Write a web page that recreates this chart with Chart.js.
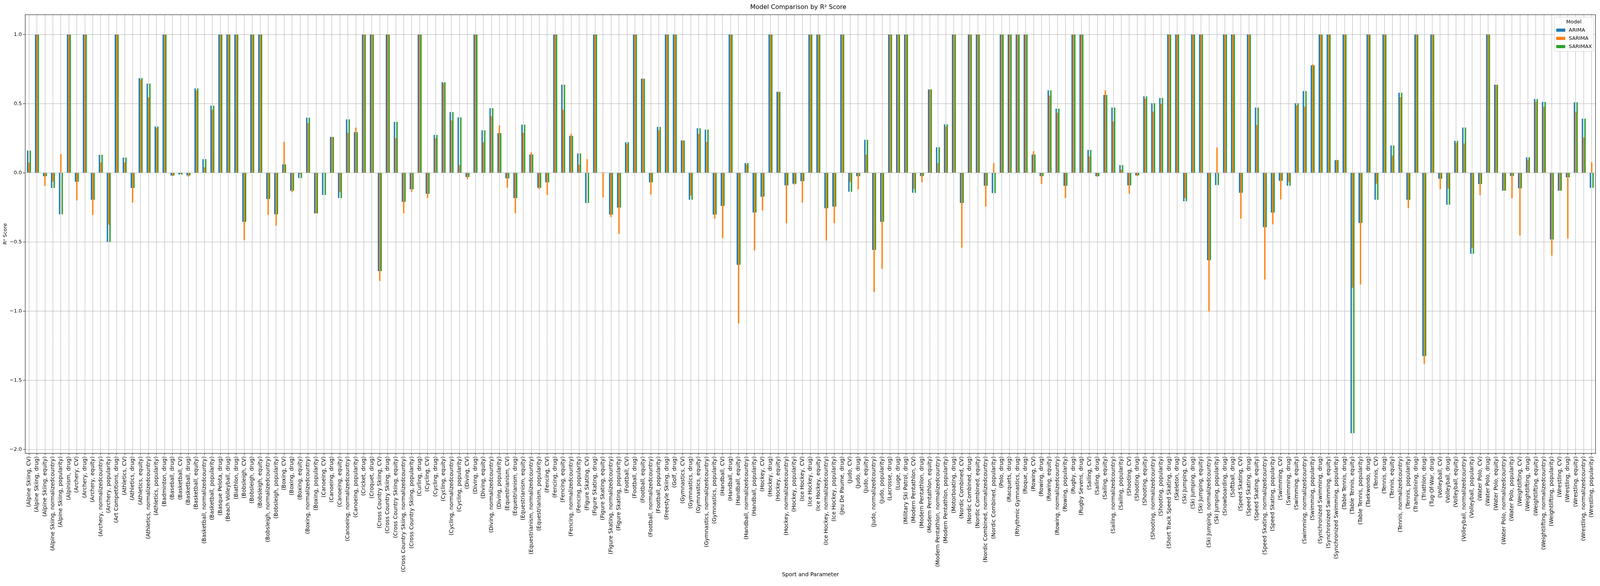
<!DOCTYPE html>
<html>
<head>
<meta charset="utf-8">
<script src="https://cdn.jsdelivr.net/npm/chart.js@4.4.1/dist/chart.umd.min.js"></script>
<style>
  html, body { margin: 0; padding: 0; background: #fff; overflow: hidden; }
  #myChart { display: block; }
</style>
</head>
<body>
<canvas id="myChart"></canvas>
<script>
// categories (sport, parameter)
var categories = [
    "(Alpine Skiing, CV)", "(Alpine Skiing, drug)", "(Alpine Skiing, equity)", "(Alpine Skiing, normalizedcountry)", "(Alpine Skiing, popularity)",
    "(Alpinism, drug)", "(Archery, CV)", "(Archery, drug)", "(Archery, equity)", "(Archery, normalizedcountry)",
    "(Archery, popularity)", "(Art Competitions, drug)", "(Athletics, CV)", "(Athletics, drug)", "(Athletics, equity)",
    "(Athletics, normalizedcountry)", "(Athletics, popularity)", "(Badminton, drug)", "(Baseball, drug)", "(Basketball, CV)",
    "(Basketball, drug)", "(Basketball, equity)", "(Basketball, normalizedcountry)", "(Basketball, popularity)", "(Basque Pelota, drug)",
    "(Beach Volleyball, drug)", "(Biathlon, drug)", "(Bobsleigh, CV)", "(Bobsleigh, drug)", "(Bobsleigh, equity)",
    "(Bobsleigh, normalizedcountry)", "(Bobsleigh, popularity)", "(Boxing, CV)", "(Boxing, drug)", "(Boxing, equity)",
    "(Boxing, normalizedcountry)", "(Boxing, popularity)", "(Canoeing, CV)", "(Canoeing, drug)", "(Canoeing, equity)",
    "(Canoeing, normalizedcountry)", "(Canoeing, popularity)", "(Cricket, drug)", "(Croquet, drug)", "(Cross Country Skiing, CV)",
    "(Cross Country Skiing, drug)", "(Cross Country Skiing, equity)", "(Cross Country Skiing, normalizedcountry)", "(Cross Country Skiing, popularity)", "(Curling, drug)",
    "(Cycling, CV)", "(Cycling, drug)", "(Cycling, equity)", "(Cycling, normalizedcountry)", "(Cycling, popularity)",
    "(Diving, CV)", "(Diving, drug)", "(Diving, equity)", "(Diving, normalizedcountry)", "(Diving, popularity)",
    "(Equestrianism, CV)", "(Equestrianism, drug)", "(Equestrianism, equity)", "(Equestrianism, normalizedcountry)", "(Equestrianism, popularity)",
    "(Fencing, CV)", "(Fencing, drug)", "(Fencing, equity)", "(Fencing, normalizedcountry)", "(Fencing, popularity)",
    "(Figure Skating, CV)", "(Figure Skating, drug)", "(Figure Skating, equity)", "(Figure Skating, normalizedcountry)", "(Figure Skating, popularity)",
    "(Football, CV)", "(Football, drug)", "(Football, equity)", "(Football, normalizedcountry)", "(Football, popularity)",
    "(Freestyle Skiing, drug)", "(Golf, drug)", "(Gymnastics, CV)", "(Gymnastics, drug)", "(Gymnastics, equity)",
    "(Gymnastics, normalizedcountry)", "(Gymnastics, popularity)", "(Handball, CV)", "(Handball, drug)", "(Handball, equity)",
    "(Handball, normalizedcountry)", "(Handball, popularity)", "(Hockey, CV)", "(Hockey, drug)", "(Hockey, equity)",
    "(Hockey, normalizedcountry)", "(Hockey, popularity)", "(Ice Hockey, CV)", "(Ice Hockey, drug)", "(Ice Hockey, equity)",
    "(Ice Hockey, normalizedcountry)", "(Ice Hockey, popularity)", "(Jeu De Paume, drug)", "(Judo, CV)", "(Judo, drug)",
    "(Judo, equity)", "(Judo, normalizedcountry)", "(Judo, popularity)", "(Lacrosse, drug)", "(Luge, drug)",
    "(Military Ski Patrol, drug)", "(Modern Pentathlon, CV)", "(Modern Pentathlon, drug)", "(Modern Pentathlon, equity)", "(Modern Pentathlon, normalizedcountry)",
    "(Modern Pentathlon, popularity)", "(Motorboating, drug)", "(Nordic Combined, CV)", "(Nordic Combined, drug)", "(Nordic Combined, equity)",
    "(Nordic Combined, normalizedcountry)", "(Nordic Combined, popularity)", "(Polo, drug)", "(Racquets, drug)", "(Rhythmic Gymnastics, drug)",
    "(Roque, drug)", "(Rowing, CV)", "(Rowing, drug)", "(Rowing, equity)", "(Rowing, normalizedcountry)",
    "(Rowing, popularity)", "(Rugby, drug)", "(Rugby Sevens, drug)", "(Sailing, CV)", "(Sailing, drug)",
    "(Sailing, equity)", "(Sailing, normalizedcountry)", "(Sailing, popularity)", "(Shooting, CV)", "(Shooting, drug)",
    "(Shooting, equity)", "(Shooting, normalizedcountry)", "(Shooting, popularity)", "(Short Track Speed Skating, drug)", "(Skeleton, drug)",
    "(Ski Jumping, CV)", "(Ski Jumping, drug)", "(Ski Jumping, equity)", "(Ski Jumping, normalizedcountry)", "(Ski Jumping, popularity)",
    "(Snowboarding, drug)", "(Softball, drug)", "(Speed Skating, CV)", "(Speed Skating, drug)", "(Speed Skating, equity)",
    "(Speed Skating, normalizedcountry)", "(Speed Skating, popularity)", "(Swimming, CV)", "(Swimming, drug)", "(Swimming, equity)",
    "(Swimming, normalizedcountry)", "(Swimming, popularity)", "(Synchronized Swimming, drug)", "(Synchronized Swimming, equity)", "(Synchronized Swimming, popularity)",
    "(Table Tennis, drug)", "(Table Tennis, equity)", "(Table Tennis, popularity)", "(Taekwondo, drug)", "(Tennis, CV)",
    "(Tennis, drug)", "(Tennis, equity)", "(Tennis, normalizedcountry)", "(Tennis, popularity)", "(Trampolining, drug)",
    "(Triathlon, drug)", "(Tug-Of-War, drug)", "(Volleyball, CV)", "(Volleyball, drug)", "(Volleyball, equity)",
    "(Volleyball, normalizedcountry)", "(Volleyball, popularity)", "(Water Polo, CV)", "(Water Polo, drug)", "(Water Polo, equity)",
    "(Water Polo, normalizedcountry)", "(Water Polo, popularity)", "(Weightlifting, CV)", "(Weightlifting, drug)", "(Weightlifting, equity)",
    "(Weightlifting, normalizedcountry)", "(Weightlifting, popularity)", "(Wrestling, CV)", "(Wrestling, drug)", "(Wrestling, equity)",
    "(Wrestling, normalizedcountry)", "(Wrestling, popularity)"
];

var arima = [
    0.16, 1, -0.025, -0.11, -0.30, 1, -0.065, 1, -0.195, 0.13,
    -0.50, 1, 0.11, -0.11, 0.685, 0.645, 0.335, 1, -0.02, -0.013,
    -0.02, 0.61, 0.099, 0.485, 1, 1, 1, -0.355, 1, 1,
    -0.19, -0.30, 0.061, -0.129, -0.038, 0.398, -0.294, -0.16, 0.259, -0.183,
    0.386, 0.294, 1, 1, -0.711, 1, 0.368, -0.21, -0.119, 1,
    -0.152, 0.274, 0.655, 0.439, 0.401, -0.03, 1, 0.307, 0.467, 0.287,
    -0.04, -0.183, 0.348, 0.132, -0.109, -0.069, 1, 0.637, 0.266, 0.14,
    -0.218, 1, 0.003, -0.302, -0.251, 0.221, 1, 0.68, -0.069, 0.332,
    1, 1, 0.234, -0.195, 0.322, 0.312, -0.302, -0.239, 1, -0.665,
    0.071, -0.287, -0.173, 1, 0.586, -0.091, -0.079, -0.061, 1, 1,
    -0.256, -0.244, 1, -0.137, -0.025, 0.239, -0.558, -0.355, 1, 1,
    1, -0.145, -0.023, 0.602, 0.185, 0.35, 1, -0.218, 1, 1,
    -0.094, -0.147, 1, 1, 1, 1, 0.132, -0.025, 0.596, 0.464,
    -0.094, 1, 1, 0.165, -0.025, 0.563, 0.472, 0.056, -0.091, -0.018,
    0.553, 0.503, 0.541, 1, 1, -0.206, 1, 1, -0.632, -0.089,
    1, 1, -0.145, 1, 0.472, -0.393, -0.287, -0.058, -0.094, 0.503,
    0.591, 0.777, 1, 1, 0.091, 1, -1.883, -0.363, 1, -0.195,
    1, 0.198, 0.579, -0.195, 1, -1.325, 1, -0.043, -0.231, 0.231,
    0.327, -0.586, -0.081, 1, 0.637, -0.129, -0.023, -0.112, 0.112, 0.533,
    0.513, -0.482, -0.129, -0.033, 0.51, 0.391, -0.109
];

var sarima = [
    0.075, 1, -0.095, -0.065, 0.135, 1, -0.20, 1, -0.305, 0.075,
    -0.375, 1, 0.075, -0.215, 0.675, 0.545, 0.325, 1, -0.025, -0.008,
    -0.028, 0.595, 0.04, 0.457, 1, 1, 1, -0.487, 1, 1,
    -0.305, -0.383, 0.223, -0.14, -0.01, 0.36, -0.294, -0.003, 0.259, -0.14,
    0.289, 0.327, 1, 1, -0.782, 1, 0.251, -0.292, -0.137, 1,
    -0.183, 0.249, 0.647, 0.378, 0.056, -0.046, 1, 0.221, 0.409, 0.343,
    -0.107, -0.292, 0.289, 0.147, -0.117, -0.16, 1, 0.457, 0.282, 0.058,
    0.099, 1, -0.178, -0.32, -0.442, 0.208, 1, 0.68, -0.157, 0.307,
    1, 1, 0.232, -0.165, 0.282, 0.223, -0.332, -0.472, 1, -1.089,
    0.061, -0.561, -0.272, 1, 0.584, -0.365, -0.086, -0.216, 1, 1,
    -0.49, -0.365, 1, -0.066, -0.119, 0.132, -0.863, -0.695, 1, 1,
    1, -0.117, -0.069, 0.602, 0.069, 0.335, 1, -0.541, 1, 1,
    -0.244, 0.069, 1, 1, 1, 1, 0.157, -0.081, 0.558, 0.434,
    -0.183, 1, 1, 0.119, -0.028, 0.596, 0.371, 0.023, -0.152, -0.025,
    0.536, 0.442, 0.497, 1, 1, -0.183, 1, 1, -1.003, 0.183,
    1, 1, -0.332, 1, 0.345, -0.772, -0.373, -0.193, -0.066, 0.487,
    0.477, 0.784, 1, 1, 0.094, 1, -0.832, -0.807, 1, -0.079,
    1, 0.124, 0.546, -0.256, 1, -1.381, 1, -0.119, -0.114, 0.216,
    0.211, -0.543, -0.162, 1, 0.637, -0.129, -0.185, -0.454, 0.096, 0.515,
    0.477, -0.599, -0.129, -0.475, 0.442, 0.256, 0.076
];

var sarimax = [
    0.16, 1, -0.025, -0.11, -0.30, 1, -0.065, 1, -0.195, 0.13,
    -0.50, 1, 0.11, -0.11, 0.685, 0.645, 0.335, 1, -0.02, -0.013,
    -0.02, 0.61, 0.099, 0.485, 1, 1, 1, -0.355, 1, 1,
    -0.19, -0.30, 0.061, -0.129, -0.038, 0.398, -0.294, -0.16, 0.259, -0.183,
    0.386, 0.294, 1, 1, -0.711, 1, 0.368, -0.21, -0.119, 1,
    -0.152, 0.274, 0.655, 0.439, 0.401, -0.03, 1, 0.307, 0.467, 0.287,
    -0.04, -0.183, 0.348, 0.132, -0.109, -0.069, 1, 0.637, 0.266, 0.14,
    -0.218, 1, 0.003, -0.302, -0.251, 0.221, 1, 0.68, -0.069, 0.332,
    1, 1, 0.234, -0.195, 0.322, 0.312, -0.302, -0.239, 1, -0.665,
    0.071, -0.287, -0.173, 1, 0.586, -0.091, -0.079, -0.061, 1, 1,
    -0.256, -0.244, 1, -0.137, -0.025, 0.239, -0.558, -0.355, 1, 1,
    1, -0.145, -0.023, 0.602, 0.185, 0.35, 1, -0.218, 1, 1,
    -0.094, -0.147, 1, 1, 1, 1, 0.132, -0.025, 0.596, 0.464,
    -0.094, 1, 1, 0.165, -0.025, 0.563, 0.472, 0.056, -0.091, -0.018,
    0.553, 0.503, 0.541, 1, 1, -0.206, 1, 1, -0.632, -0.089,
    1, 1, -0.145, 1, 0.472, -0.393, -0.287, -0.058, -0.094, 0.503,
    0.591, 0.777, 1, 1, 0.091, 1, -1.883, -0.363, 1, -0.195,
    1, 0.198, 0.579, -0.195, 1, -1.325, 1, -0.043, -0.231, 0.231,
    0.327, -0.586, -0.081, 1, 0.637, -0.129, -0.023, -0.112, 0.112, 0.533,
    0.513, -0.482, -0.129, -0.033, 0.51, 0.391, -0.109
];

var models = ["ARIMA", "SARIMA", "SARIMAX"];
var yTicks = [-2.0, -1.5, -1.0, -0.5, 0.0, 0.5, 1.0];

var colors = ['#1f77b4', '#ff7f0e', '#2ca02c'];

// the window may be narrower than 5000, so lay out in proportion
var W = window.innerWidth || 5000;
var H = window.innerHeight || 1500;
var sx = W / 5000, sy = H / 1500;
var plotLeft = Math.round(78 * sx), plotRight = Math.round(W - 14 * sx);
var plotTop = Math.round(37 * sy), plotBottom = Math.round(1160 * sy);

var cv = document.getElementById('myChart');
cv.width = W;
cv.height = H;

Chart.defaults.font.family = "'DejaVu Sans', sans-serif";
Chart.defaults.color = '#000';

// frame round the axes plus a matplotlib style legend box
var framePlugin = {
    id: 'frame',
    afterDraw: function(chart) {
        var ctx = chart.ctx;
        var a = chart.chartArea;
        ctx.save();
        ctx.strokeStyle = '#000';
        ctx.lineWidth = 1;
        ctx.strokeRect(a.left + 0.5, a.top + 0.5, a.right - a.left - 1, a.bottom - a.top);

        // legend
        var w = 100, h = 88;
        var x = a.right - w - 6, y = a.top + 6;
        ctx.fillStyle = 'rgba(255,255,255,0.8)';
        ctx.strokeStyle = '#cccccc';
        ctx.lineWidth = 1;
        ctx.beginPath();
        ctx.roundRect(x + 0.5, y + 0.5, w, h, 4);
        ctx.fill();
        ctx.stroke();
        ctx.fillStyle = '#000';
        ctx.font = "13px 'DejaVu Sans'";
        ctx.textAlign = 'center';
        ctx.textBaseline = 'middle';
        ctx.fillText('Model', x + w / 2, y + 13);
        ctx.textAlign = 'left';
        chart.data.datasets.forEach(function(ds, i) {
            var ry = y + 34 + i * 21;
            ctx.fillStyle = ds.backgroundColor;
            ctx.fillRect(x + 5, ry - 4, 23, 8);
            ctx.fillStyle = '#000';
            ctx.fillText(ds.label, x + 37, ry);
        });
        ctx.restore();
    }
};

var titleSize = 16;
var myChart = new Chart(cv.getContext('2d'), {
    type: 'bar',
    data: {
        labels: categories,
        datasets: [
            { label: models[0], data: arima, backgroundColor: colors[0] },
            { label: models[1], data: sarima, backgroundColor: colors[1] },
            { label: models[2], data: sarimax, backgroundColor: colors[2] }
        ]
    },
    options: {
        responsive: false,
        animation: false,
        devicePixelRatio: 1,
        datasets: {
            bar: { categoryPercentage: 0.5, barPercentage: 1.0, borderWidth: 0 }
        },
        layout: { padding: { left: 2, right: W - plotRight, top: 0, bottom: 0 } },
        plugins: {
            legend: { display: false },
            tooltip: { enabled: false },
            title: {
                display: true,
                text: 'Model Comparison by R\u00b2 Score',
                font: { size: titleSize, weight: 'normal', lineHeight: 1.2 },
                color: '#000',
                padding: { top: 9, bottom: plotTop - 9 - Math.round(titleSize * 1.2) }
            }
        },
        scales: {
            x: {
                z: 1,
                grid: {
                    offset: false,
                    color: '#b0b0b0',
                    lineWidth: 1,
                    tickColor: '#000',
                    tickLength: 5
                },
                border: { display: true, color: '#000', width: 1 },
                ticks: {
                    autoSkip: false,
                    minRotation: 90,
                    maxRotation: 90,
                    font: { size: 14 },
                    color: '#000',
                    padding: 3
                },
                title: {
                    display: true,
                    text: 'Sport and Parameter',
                    font: { size: 14 },
                    color: '#000',
                    padding: { top: 0, bottom: 20 }
                },
                afterFit: function(scale) { scale.height = H - plotBottom; }
            },
            y: {
                z: 1,
                min: -2.027,
                max: 1.144,
                grid: {
                    color: '#b0b0b0',
                    lineWidth: 1,
                    tickColor: '#000',
                    tickLength: 5
                },
                border: { display: true, color: '#000', width: 1 },
                afterBuildTicks: function(scale) {
                    scale.ticks = yTicks.map(function(v) { return { value: v }; });
                },
                ticks: {
                    font: { size: 13 },
                    color: '#000',
                    padding: 3,
                    callback: function(v) {
                        return (v < 0 ? '\u2212' : '') + Math.abs(v).toFixed(1);
                    }
                },
                title: {
                    display: true,
                    text: 'R\u00b2 Score',
                    font: { size: 13 },
                    color: '#000',
                    padding: { top: 4, bottom: 2 }
                },
                afterFit: function(scale) { scale.width = plotLeft - 2; }
            }
        }
    },
    plugins: [framePlugin]
});
</script>
</body>
</html>
